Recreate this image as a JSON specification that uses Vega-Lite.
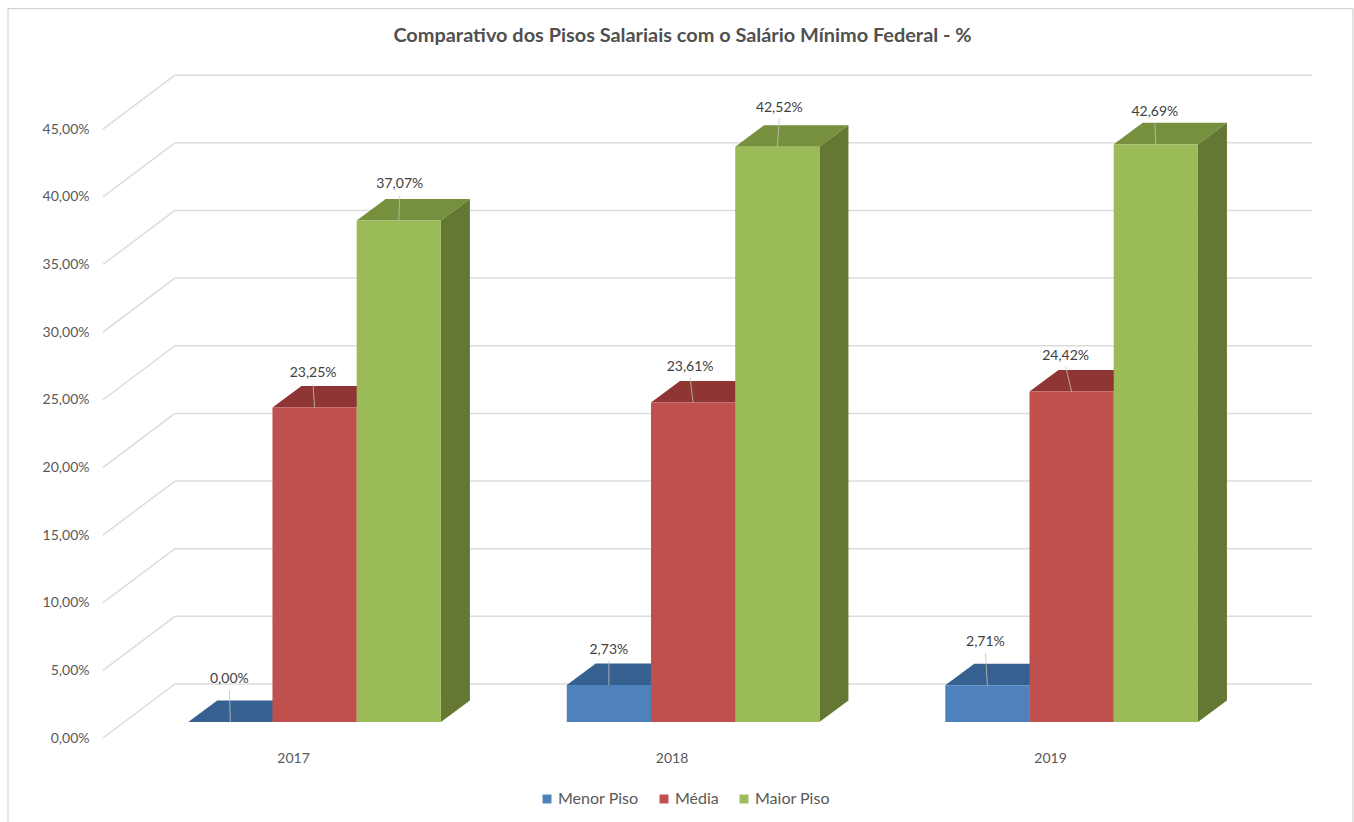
{
"$schema":"https://vega.github.io/schema/vega-lite/v6.json",
"autosize":{"type":"none"},
"padding":{"left":103,"top":75,"right":42,"bottom":84},
"width":1209,"height":663,
"background":"white",
"title":{"text":"Comparativo dos Pisos Salariais com o Salário Mínimo Federal - %","font":"Lato","fontSize":19.9,"fontWeight":"bold","color":"#505050","anchor":"middle","dx":-25,"offset":-38},
"config":{"view":{"stroke":null},"font":"Lato"},
"datasets":{
"bars":[
{"year":2017,"serie":"Menor Piso","value":0},
{"year":2017,"serie":"Média","value":23.25},
{"year":2017,"serie":"Maior Piso","value":37.07},
{"year":2018,"serie":"Menor Piso","value":2.73},
{"year":2018,"serie":"Média","value":23.61},
{"year":2018,"serie":"Maior Piso","value":42.52},
{"year":2019,"serie":"Menor Piso","value":2.71},
{"year":2019,"serie":"Média","value":24.42},
{"year":2019,"serie":"Maior Piso","value":42.69}
],
"ticks":[{"tick":0},{"tick":5},{"tick":10},{"tick":15},{"tick":20},{"tick":25},{"tick":30},{"tick":35},{"tick":40},{"tick":45}]
},
"data":{"name":"bars"},
"transform":[
{"calculate":"indexof(['Menor Piso','Média','Maior Piso'],datum.serie)","as":"ord"},
{"calculate":"datum.year-0.2768+datum.ord*0.2225","as":"x0"},
{"calculate":"datum.x0+0.2225","as":"x1"},
{"calculate":"datum.value+1.183","as":"top"},
{"calculate":"(datum.x0+datum.x1)/2","as":"xc"},
{"calculate":"(datum.year-2017)*3+datum.ord","as":"idx"},
{"calculate":"datum.top+[43,34,36,35,36,39,43,36,32][datum.idx]/13.53","as":"labelY"},
{"calculate":"datum.xc+[-1,-1.5,1,0,-3,2,-2,-6,-1][datum.idx]/378.5","as":"labelX"},
{"calculate":"datum.labelY-11/13.53","as":"leaderY"},
{"calculate":"replace(format(datum.value,'.2f'),'.',',')+'%'","as":"label"},
{"calculate":"datum.year+datum.serie","as":"key"}
],
"layer":[
{"data":{"name":"ticks"},
 "transform":[{"calculate":"datum.tick+3.99","as":"back"}],
 "mark":{"type":"rule","color":"#DCDCDC","strokeWidth":1.5},
 "encoding":{
  "x":{"datum":2016.688,"type":"quantitative","scale":{"domain":[2016.498,2019.692],"nice":false,"zero":false},"axis":{"values":[2017,2018,2019],"format":"d","domain":false,"ticks":false,"grid":false,"title":null,"labelFont":"Lato","labelFontSize":14,"labelColor":"#595959","labelPadding":13}},
  "x2":{"datum":2019.692},
  "y":{"field":"back","type":"quantitative","scale":{"domain":[0,49],"nice":false,"zero":false},"axis":{"values":[0,5,10,15,20,25,30,35,40,45],"labelExpr":"replace(format(datum.value,'.2f'),'.',',')+'%'","domain":false,"ticks":false,"grid":false,"title":null,"labelFont":"Lato","labelFontSize":14,"labelColor":"#595959","labelPadding":14}},
  "y2":{"field":"back"}
 }},
{"data":{"name":"ticks"},
 "transform":[{"calculate":"datum.tick+3.99","as":"back"}],
 "mark":{"type":"rule","color":"#DCDCDC","strokeWidth":1.5},
 "encoding":{
  "x":{"datum":2016.498,"type":"quantitative","axis":{"values":[2017,2018,2019],"format":"d","domain":false,"ticks":false,"grid":false,"title":null,"labelFont":"Lato","labelFontSize":14,"labelColor":"#595959","labelPadding":13}},
  "x2":{"datum":2016.688},
  "y":{"field":"tick","type":"quantitative","axis":{"values":[0,5,10,15,20,25,30,35,40,45],"labelExpr":"replace(format(datum.value,'.2f'),'.',',')+'%'","domain":false,"ticks":false,"grid":false,"title":null,"labelFont":"Lato","labelFontSize":14,"labelColor":"#595959","labelPadding":14}},
  "y2":{"field":"back"}
 }},
{"data":{"values":[{"edge":"frame"}]},
 "mark":{"type":"rect","fill":null,"stroke":"#D4D4D4","strokeWidth":1.2,"clip":false},
 "encoding":{
  "x":{"datum":2016.247,"type":"quantitative","axis":{"values":[2017,2018,2019],"format":"d","domain":false,"ticks":false,"grid":false,"title":null,"labelFont":"Lato","labelFontSize":14,"labelColor":"#595959","labelPadding":13}},
  "x2":{"datum":2019.8},
  "y":{"datum":53.9,"type":"quantitative","axis":{"values":[0,5,10,15,20,25,30,35,40,45],"labelExpr":"replace(format(datum.value,'.2f'),'.',',')+'%'","domain":false,"ticks":false,"grid":false,"title":null,"labelFont":"Lato","labelFontSize":14,"labelColor":"#595959","labelPadding":14}},
  "y2":{"datum":-7}
 }},
{"transform":[{"calculate":"[0,1]","as":"d"},{"flatten":["d"]},
  {"calculate":"datum.x0+datum.d*0.0766","as":"xa"},{"calculate":"datum.x1+datum.d*0.0766","as":"xb"},{"calculate":"datum.top+datum.d*1.59","as":"ya"}],
 "mark":{"type":"area","orient":"horizontal","clip":false},
 "encoding":{
  "x":{"field":"xa","type":"quantitative","stack":null,"axis":{"values":[2017,2018,2019],"format":"d","domain":false,"ticks":false,"grid":false,"title":null,"labelFont":"Lato","labelFontSize":14,"labelColor":"#595959","labelPadding":13}},
  "x2":{"field":"xb"},
  "y":{"field":"ya","type":"quantitative","axis":{"values":[0,5,10,15,20,25,30,35,40,45],"labelExpr":"replace(format(datum.value,'.2f'),'.',',')+'%'","domain":false,"ticks":false,"grid":false,"title":null,"labelFont":"Lato","labelFontSize":14,"labelColor":"#595959","labelPadding":14}},
  "detail":{"field":"key"},
  "color":{"field":"serie","type":"nominal","legend":null,"scale":{"domain":["Menor Piso","Média","Maior Piso"],"range":["#36608F","#8F3534","#77903D"]}}
 }},
{"transform":[{"calculate":"[0,1]","as":"d"},{"flatten":["d"]},
  {"calculate":"datum.x1+datum.d*0.0766","as":"xa"},{"calculate":"datum.top+datum.d*1.59","as":"ya"},{"calculate":"1.183+datum.d*1.59","as":"yb"}],
 "mark":{"type":"area","orient":"vertical","clip":false},
 "encoding":{
  "x":{"field":"xa","type":"quantitative","axis":{"values":[2017,2018,2019],"format":"d","domain":false,"ticks":false,"grid":false,"title":null,"labelFont":"Lato","labelFontSize":14,"labelColor":"#595959","labelPadding":13}},
  "y":{"field":"ya","type":"quantitative","stack":null,"axis":{"values":[0,5,10,15,20,25,30,35,40,45],"labelExpr":"replace(format(datum.value,'.2f'),'.',',')+'%'","domain":false,"ticks":false,"grid":false,"title":null,"labelFont":"Lato","labelFontSize":14,"labelColor":"#595959","labelPadding":14}},
  "y2":{"field":"yb"},
  "detail":{"field":"key"},
  "color":{"field":"serie","type":"nominal","legend":null,"scale":{"domain":["Menor Piso","Média","Maior Piso"],"range":["#3A6090","#8F3937","#647834"]}}
 }},
{"transform":[{"calculate":"1.183","as":"base"}],
 "mark":{"type":"rect","clip":false},
 "encoding":{
  "x":{"field":"x0","type":"quantitative","axis":{"values":[2017,2018,2019],"format":"d","domain":false,"ticks":false,"grid":false,"title":null,"labelFont":"Lato","labelFontSize":14,"labelColor":"#595959","labelPadding":13}},
  "x2":{"field":"x1"},
  "y":{"field":"top","type":"quantitative","axis":{"values":[0,5,10,15,20,25,30,35,40,45],"labelExpr":"replace(format(datum.value,'.2f'),'.',',')+'%'","domain":false,"ticks":false,"grid":false,"title":null,"labelFont":"Lato","labelFontSize":14,"labelColor":"#595959","labelPadding":14}},
  "y2":{"field":"base"},
  "color":{"field":"serie","type":"nominal","scale":{"domain":["Menor Piso","Média","Maior Piso"],"range":["#4F81BD","#C0504D","#9BBB59"]},
    "legend":{"orient":"none","direction":"horizontal","columns":3,"title":null,"legendX":436,"legendY":716,"symbolType":"square","symbolSize":80,"labelFont":"Lato","labelFontSize":16,"labelColor":"#595959","labelOffset":3,"columnPadding":17,"symbolOpacity":1}}
 }},
{"mark":{"type":"rule","color":"#BFC4B8","strokeWidth":1,"opacity":0.8,"clip":false},
 "encoding":{
  "x":{"field":"xc","type":"quantitative","axis":{"values":[2017,2018,2019],"format":"d","domain":false,"ticks":false,"grid":false,"title":null,"labelFont":"Lato","labelFontSize":14,"labelColor":"#595959","labelPadding":13}},
  "x2":{"field":"labelX"},
  "y":{"field":"top","type":"quantitative","axis":{"values":[0,5,10,15,20,25,30,35,40,45],"labelExpr":"replace(format(datum.value,'.2f'),'.',',')+'%'","domain":false,"ticks":false,"grid":false,"title":null,"labelFont":"Lato","labelFontSize":14,"labelColor":"#595959","labelPadding":14}},
  "y2":{"field":"leaderY"}
 }},
{"mark":{"type":"text","font":"Lato","fontSize":14,"color":"#404040","align":"center","baseline":"middle","clip":false},
 "encoding":{
  "x":{"field":"labelX","type":"quantitative","axis":{"values":[2017,2018,2019],"format":"d","domain":false,"ticks":false,"grid":false,"title":null,"labelFont":"Lato","labelFontSize":14,"labelColor":"#595959","labelPadding":13}},
  "y":{"field":"labelY","type":"quantitative","axis":{"values":[0,5,10,15,20,25,30,35,40,45],"labelExpr":"replace(format(datum.value,'.2f'),'.',',')+'%'","domain":false,"ticks":false,"grid":false,"title":null,"labelFont":"Lato","labelFontSize":14,"labelColor":"#595959","labelPadding":14}},
  "text":{"field":"label","type":"nominal"}
 }}
],
"resolve":{"scale":{"color":"independent"}}
}
